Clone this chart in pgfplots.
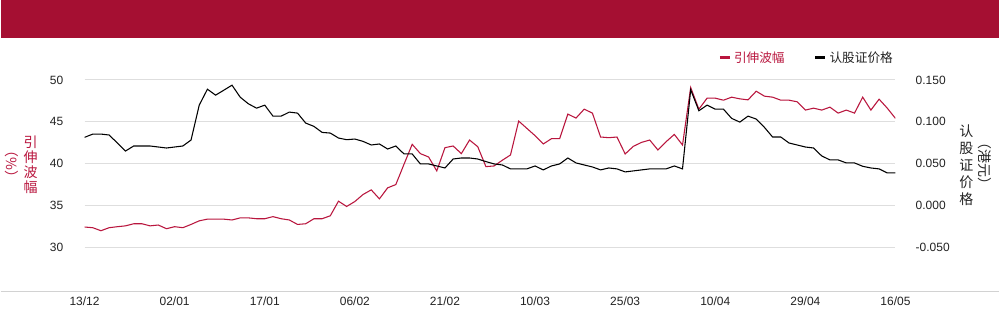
\documentclass[border=0pt]{standalone}
\usepackage{fontspec}
\setmainfont{Liberation Sans}
\newfontfamily\cjk{Noto Sans CJK SC}
\usepackage{pgfplots}
\pgfplotsset{compat=1.18}
\usepackage{pgfplotstable}
\definecolor{hdr}{RGB}{165,15,50}
\definecolor{redline}{RGB}{185,22,62}
\definecolor{gridc}{RGB}{222,222,222}
\definecolor{sepc}{RGB}{210,210,210}
\definecolor{txt}{RGB}{35,35,35}

\pgfplotstableread{
i v
0 32.46
1 32.38
2 32.02
3 32.38
4 32.50
5 32.60
6 32.85
7 32.85
8 32.60
9 32.70
10 32.26
11 32.50
12 32.38
13 32.77
14 33.20
15 33.40
16 33.40
17 33.40
18 33.30
19 33.55
20 33.55
21 33.45
22 33.45
23 33.70
24 33.45
25 33.30
26 32.77
27 32.85
28 33.45
29 33.45
30 33.80
31 35.54
32 34.91
33 35.50
34 36.34
35 36.89
36 35.82
37 37.13
38 37.52
39 39.94
40 42.32
41 41.21
42 40.81
43 39.15
44 41.92
45 42.12
46 41.21
47 42.83
48 42.04
49 39.66
50 39.74
51 40.42
52 41.05
53 45.09
54 44.22
55 43.35
56 42.36
57 42.99
58 42.99
59 45.92
60 45.45
61 46.51
62 46.04
63 43.19
64 43.11
65 43.19
66 41.17
67 42.08
68 42.55
69 42.83
70 41.64
71 42.63
72 43.50
73 42.24
74 49.09
75 46.51
76 47.82
77 47.82
78 47.58
79 47.94
80 47.74
81 47.62
82 48.65
83 48.06
84 47.94
85 47.58
86 47.58
87 47.39
88 46.40
89 46.63
90 46.40
91 46.75
92 46.04
93 46.40
94 46.04
95 47.94
96 46.40
97 47.70
98 46.63
99 45.41
}\tabvol

\pgfplotstableread{
i v
0 0.0815
1 0.0854
2 0.0854
3 0.0843
4 0.0748
5 0.0652
6 0.0712
7 0.0712
8 0.0712
9 0.0700
10 0.0688
11 0.0700
12 0.0712
13 0.0783
14 0.1199
15 0.1389
16 0.1318
17 0.1377
18 0.1437
19 0.1294
20 0.1215
21 0.1163
22 0.1199
23 0.1068
24 0.1068
25 0.1116
26 0.1104
27 0.0985
28 0.0946
29 0.0874
30 0.0866
31 0.0807
32 0.0787
33 0.0795
34 0.0767
35 0.0724
36 0.0736
37 0.0676
38 0.0712
39 0.0617
40 0.0617
41 0.0498
42 0.0498
43 0.0474
44 0.0450
45 0.0557
46 0.0569
47 0.0569
48 0.0557
49 0.0526
50 0.0498
51 0.0486
52 0.0439
53 0.0439
54 0.0439
55 0.0474
56 0.0427
57 0.0474
58 0.0498
59 0.0569
60 0.0510
61 0.0486
62 0.0462
63 0.0427
64 0.0450
65 0.0439
66 0.0403
67 0.0415
68 0.0427
69 0.0439
70 0.0439
71 0.0439
72 0.0474
73 0.0439
74 0.1382
75 0.1132
76 0.1199
77 0.1151
78 0.1151
79 0.1041
80 0.0997
81 0.1068
82 0.1033
83 0.0934
84 0.0819
85 0.0819
86 0.0748
87 0.0724
88 0.0700
89 0.0688
90 0.0593
91 0.0546
92 0.0546
93 0.0510
94 0.0510
95 0.0470
96 0.0450
97 0.0439
98 0.0391
99 0.0391
}\tabprice

\begin{document}
\begin{tikzpicture}
\fill[white] (0pt,0pt) rectangle (750pt,243pt);
\fill[hdr] (0pt,214.5pt) rectangle (750pt,243pt);
\draw[sepc, line width=1pt] (0pt,24pt) -- (750pt,24pt);

\begin{axis}[
  at={(63pt,24pt)}, anchor=south west,
  scale only axis, width=609pt, height=159pt,
  xmin=0, xmax=99, ymin=24.762, ymax=50,
  axis line style={draw=none}, major tick length=0pt,
  xtick={0,11,22,33,44,55,66,77,88,99},
  xticklabels={13/12,02/01,17/01,06/02,21/02,10/03,25/03,10/04,29/04,16/05},
  ytick={30,35,40,45,50},
  yticklabels={30,35,40,45,50},
  ymajorgrids, grid style={gridc, line width=0.8pt},
  tick label style={font=\fontsize{9}{10}\selectfont, text=txt},
  yticklabel style={anchor=east, inner sep=0pt, xshift=-15.75pt},
  xticklabel style={anchor=north, inner sep=0pt, yshift=-4pt},
]
\addplot[redline, line width=0.8pt] table[x=i,y=v]{\tabvol};
\end{axis}

\begin{axis}[
  at={(63pt,24pt)}, anchor=south west,
  scale only axis, width=609pt, height=159pt,
  xmin=0, xmax=99, ymin=-0.10238, ymax=0.15,
  axis line style={draw=none}, major tick length=0pt,
  xtick=\empty,
  yticklabel pos=right,
  ytick={-0.05,0,0.05,0.1,0.15},
  yticklabels={-0.050,0.000,0.050,0.100,0.150},
  tick label style={font=\fontsize{9}{10}\selectfont, text=txt},
  yticklabel style={anchor=west, inner sep=0pt, xshift=15pt},
  legend style={at={(1,1)}, anchor=east, yshift=16.5pt, draw=none, fill=none,
    inner sep=0pt, outer sep=0pt, legend columns=2,
    font=\cjk\fontsize{9.5}{11}\selectfont,
    /tikz/every even column/.append style={column sep=20pt}},
  legend image code/.code={\draw[line width=2.25pt] (0pt,0pt) -- (7.5pt,0pt);},
]
\addlegendimage{redline}
\addlegendentry{\textcolor{redline}{引伸波幅}}
\addplot[black, line width=0.8pt] table[x=i,y=v]{\tabprice};
\addlegendentry{\textcolor{txt}{认股证价格}}
\end{axis}

\node[text=redline, font=\cjk\fontsize{10.5}{11.25}\selectfont, align=center, inner sep=0pt] at (22.5pt,119.25pt) {引\\伸\\波\\幅};
\node[text=redline, font=\cjk\fontsize{10.5}{11.25}\selectfont, rotate=-90, inner sep=0pt] at (8.25pt,120pt) {（\%）};
\node[text=txt, font=\cjk\fontsize{10.5}{12.75}\selectfont, align=center, inner sep=0pt] at (725.25pt,119.25pt) {认\\股\\证\\价\\格};
\node[text=txt, font=\cjk\fontsize{10.5}{11.25}\selectfont, rotate=-90, inner sep=0pt] at (739pt,120.4pt) {（港元）};
\end{tikzpicture}
\end{document}
